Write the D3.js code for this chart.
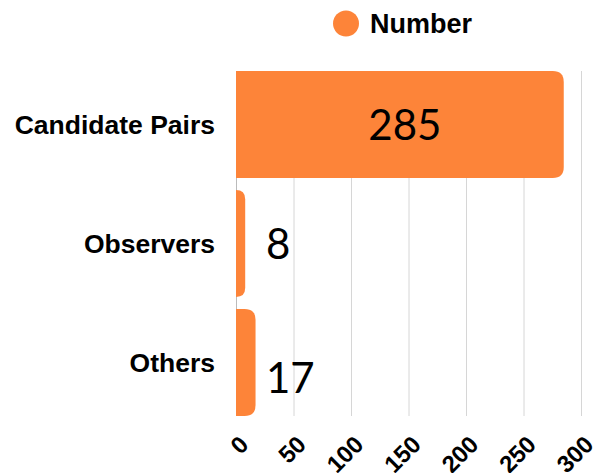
<!DOCTYPE html>
<html>
<head>
<meta charset="utf-8">
<script src="https://cdn.jsdelivr.net/npm/d3@7"></script>
<style>
  html, body { margin: 0; padding: 0; background: #fff; }
  svg { display: block; }
</style>
</head>
<body>
<svg id="chart" width="605" height="473"></svg>
<script>
const categories = ["Candidate Pairs", "Observers", "Others"];
const values = [285, 8, 17];
const seriesName = "Number";
const tickValues = [0, 50, 100, 150, 200, 250, 300];

const W = 605, H = 473;
const margin = { left: 236, right: 24, top: 71, bottom: 57 };
const color = "#fd8439";

const svg = d3.select("#chart");

const x = d3.scaleLinear().domain([0, 300]).range([margin.left, W - margin.right]);
const y = d3.scaleBand().domain(categories).range([margin.top, H - margin.bottom])
  .paddingInner(0.1).paddingOuter(0);

// gridlines
svg.append("g").selectAll("line").data(tickValues).join("line")
  .attr("x1", d => x(d) + 0.5).attr("x2", d => x(d) + 0.5)
  .attr("y1", margin.top).attr("y2", H - margin.bottom)
  .attr("stroke", d => d === 0 ? "#bbbbbb" : "#d6d6d6").attr("stroke-width", 1);

// bars with right-side rounded corners
function barPath(x0, x1, y0, h, r) {
  const w = x1 - x0;
  const rr = Math.min(r, w, h / 2);
  return `M${x0},${y0} H${x1 - rr} Q${x1},${y0} ${x1},${y0 + rr} V${y0 + h - rr} Q${x1},${y0 + h} ${x1 - rr},${y0 + h} H${x0} Z`;
}
const data = categories.map((c, i) => ({ c, v: values[i] }));
svg.append("g").selectAll("path").data(data).join("path")
  .attr("d", d => barPath(x(0), x(d.v), y(d.c), y.bandwidth(), 11))
  .attr("fill", color);

// value labels
const labelDy = [0, 0, 15];
svg.append("g").selectAll("text").data(data).join("text")
  .attr("x", (d, i) => {
    const w = x(d.v) - x(0);
    return w > 100 ? (x(0) + x(d.v)) / 2 + 5 : Math.max(x(d.v) + 10, x(26));
  })
  .attr("y", (d, i) => y(d.c) + y.bandwidth() / 2 + labelDy[i])
  .attr("dy", "0.36em")
  .attr("text-anchor", d => (x(d.v) - x(0)) > 100 ? "middle" : "start")
  .attr("font-family", "Lato, 'Noto Sans', sans-serif")
  .attr("font-size", 42)
  .attr("fill", "#000")
  .text(d => d.v);

// category labels
svg.append("g").selectAll("text").data(categories).join("text")
  .attr("x", 215)
  .attr("y", d => y(d) + y.bandwidth() / 2)
  .attr("dy", "0.36em")
  .attr("text-anchor", "end")
  .attr("font-family", "'Liberation Sans', Arial, sans-serif")
  .attr("font-weight", "bold")
  .attr("font-size", 26.5)
  .attr("fill", "#000")
  .text(d => d);

// x tick labels rotated
svg.append("g").selectAll("text").data(tickValues).join("text")
  .attr("transform", d => `translate(${x(d) + 8},${440}) rotate(-45)`)
  .attr("text-anchor", "end")
  .attr("dy", "0.35em")
  .attr("font-family", "'Liberation Sans', Arial, sans-serif")
  .attr("font-weight", "bold")
  .attr("font-size", 24)
  .attr("fill", "#000")
  .text(d => d);

// legend
const lg = svg.append("g");
lg.append("circle").attr("cx", 346).attr("cy", 23.5).attr("r", 13).attr("fill", color);
lg.append("text").attr("x", 370).attr("y", 33)
  .attr("font-family", "'Liberation Sans', Arial, sans-serif")
  .attr("font-weight", "bold").attr("font-size", 27).attr("fill", "#000")
  .text(seriesName);
</script>
</body>
</html>
